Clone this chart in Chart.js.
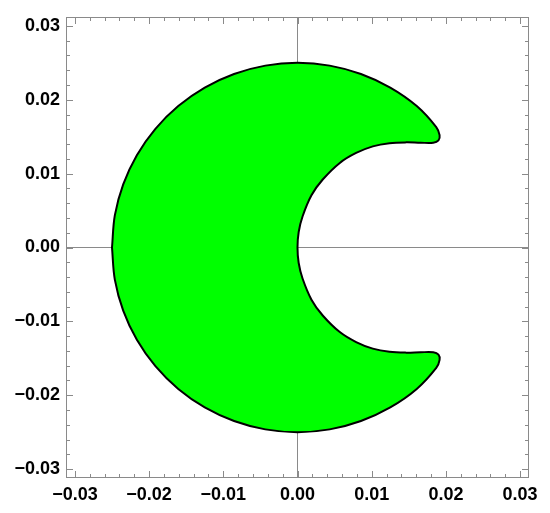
<!DOCTYPE html>
<html>
<head>
<meta charset="utf-8">
<script src="https://cdn.jsdelivr.net/npm/chart.js@4"></script>
<style>
  body { margin: 0; background: #fff; }
  #wrap { width: 550px; height: 513px; }
</style>
</head>
<body>
<div id="wrap"><canvas id="shapeChart"></canvas></div>
<script>
// Outline of the crescent (outer arc, bottom tip, inner arc, top tip)
const shapeX = [
  -0.025, -0.02462, -0.02349, -0.02165, -0.01915, -0.01607, -0.0125, -0.00855, -0.00434, 0,
  0.00434, 0.00855, 0.0125, 0.01607, 0.0187, 0.01915, 0.019, 0.0183,
  0.0166, 0.01465, 0.0124, 0.01015, 0.0079, 0.0057, 0.0034, 0.0019, 0.00068, 0.00016, 0,
  0.00016, 0.00068, 0.0019, 0.0034, 0.0057, 0.0079, 0.01015, 0.0124, 0.01465, 0.0166,
  0.0183, 0.019, 0.01915, 0.0187, 0.01607, 0.0125, 0.00855, 0.00434, 0,
  -0.00434, -0.00855, -0.0125, -0.01607, -0.01915, -0.02165, -0.02349, -0.02462, -0.025
];
const shapeY = [
  0, -0.00434, -0.00855, -0.0125, -0.01607, -0.01915, -0.02165, -0.02349, -0.02462, -0.025,
  -0.02462, -0.02349, -0.02165, -0.01915, -0.0163, -0.0152, -0.0145, -0.01418,
  -0.01418, -0.01423, -0.01412, -0.01369, -0.0128, -0.01145, -0.0092, -0.0071, -0.0042, -0.0021, 0,
  0.0021, 0.0042, 0.0071, 0.0092, 0.01145, 0.0128, 0.01369, 0.01412, 0.01423, 0.01418,
  0.01418, 0.0145, 0.0152, 0.0163, 0.01915, 0.02165, 0.02349, 0.02462, 0.025,
  0.02462, 0.02349, 0.02165, 0.01915, 0.01607, 0.0125, 0.00855, 0.00434, 0
];
const axisMin = -0.0312;
const axisMax = 0.0312;
const majorStep = 0.01;
const minorStep = 0.002;

const points = shapeX.map((x, i) => ({ x: x, y: shapeY[i] }));

const isMultiple = (v, step) => Math.abs(v / step - Math.round(v / step)) < 1e-6;
const fmt = v => {
  if (!isMultiple(v, majorStep)) return '';
  const r = Math.round(v / majorStep) * majorStep;
  const s = Math.abs(r).toFixed(2);
  return r < -1e-9 ? '\u2212' + s : s;
};

// frame plus inward ticks on all four sides
const framePlugin = {
  id: 'frame',
  afterDraw(chart) {
    const { ctx, chartArea: a, scales } = chart;
    ctx.save();
    ctx.strokeStyle = '#8a8a8a';
    ctx.lineWidth = 1;
    ctx.strokeRect(a.left + 0.5, a.top + 0.5, a.right - a.left - 1, a.bottom - a.top - 1);
    ctx.beginPath();
    scales.x.ticks.forEach(t => {
      if (!isMultiple(t.value, minorStep)) return;
      const len = isMultiple(t.value, majorStep) ? 7 : 4;
      const px = Math.round(scales.x.getPixelForValue(t.value)) + 0.5;
      ctx.moveTo(px, a.bottom); ctx.lineTo(px, a.bottom - len);
      ctx.moveTo(px, a.top); ctx.lineTo(px, a.top + len);
    });
    scales.y.ticks.forEach(t => {
      if (!isMultiple(t.value, minorStep)) return;
      const len = isMultiple(t.value, majorStep) ? 7 : 4;
      const py = Math.round(scales.y.getPixelForValue(t.value)) + 0.5;
      ctx.moveTo(a.left, py); ctx.lineTo(a.left + len, py);
      ctx.moveTo(a.right, py); ctx.lineTo(a.right - len, py);
    });
    ctx.stroke();
    ctx.restore();
  }
};

const axisGrid = {
  drawTicks: false,
  lineWidth: 1,
  color: c => (c.tick && Math.abs(c.tick.value) < 1e-9) ? '#8a8a8a' : 'rgba(0,0,0,0)'
};
const tickFont = { family: '"Liberation Sans", Arial, sans-serif', size: 18, weight: 'bold' };

new Chart(document.getElementById('shapeChart').getContext('2d'), {
  type: 'scatter',
  data: {
    datasets: [{
      data: points,
      showLine: true,
      fill: 'shape',
      backgroundColor: '#00ff00',
      borderColor: '#000000',
      borderWidth: 2,
      tension: 0.35,
      pointRadius: 0,
      pointHoverRadius: 0
    }]
  },
  options: {
    responsive: true,
    maintainAspectRatio: false,
    animation: false,
    layout: { padding: { left: 0, top: 17, right: 21, bottom: 0 } },
    plugins: { legend: { display: false }, tooltip: { enabled: false } },
    scales: {
      x: {
        type: 'linear',
        min: axisMin,
        max: axisMax,
        border: { display: false },
        grid: axisGrid,
        ticks: {
          stepSize: minorStep,
          includeBounds: false,
          autoSkip: false,
          maxRotation: 0,
          padding: 6,
          color: '#000',
          font: tickFont,
          callback: v => fmt(v)
        },
        afterFit: s => { s.height = 35; }
      },
      y: {
        type: 'linear',
        min: axisMin,
        max: axisMax,
        border: { display: false },
        grid: axisGrid,
        ticks: {
          stepSize: minorStep,
          includeBounds: false,
          autoSkip: false,
          padding: 6,
          color: '#000',
          font: tickFont,
          callback: v => fmt(v)
        },
        afterFit: s => { s.width = 66; }
      }
    }
  },
  plugins: [framePlugin]
});
</script>
</body>
</html>
